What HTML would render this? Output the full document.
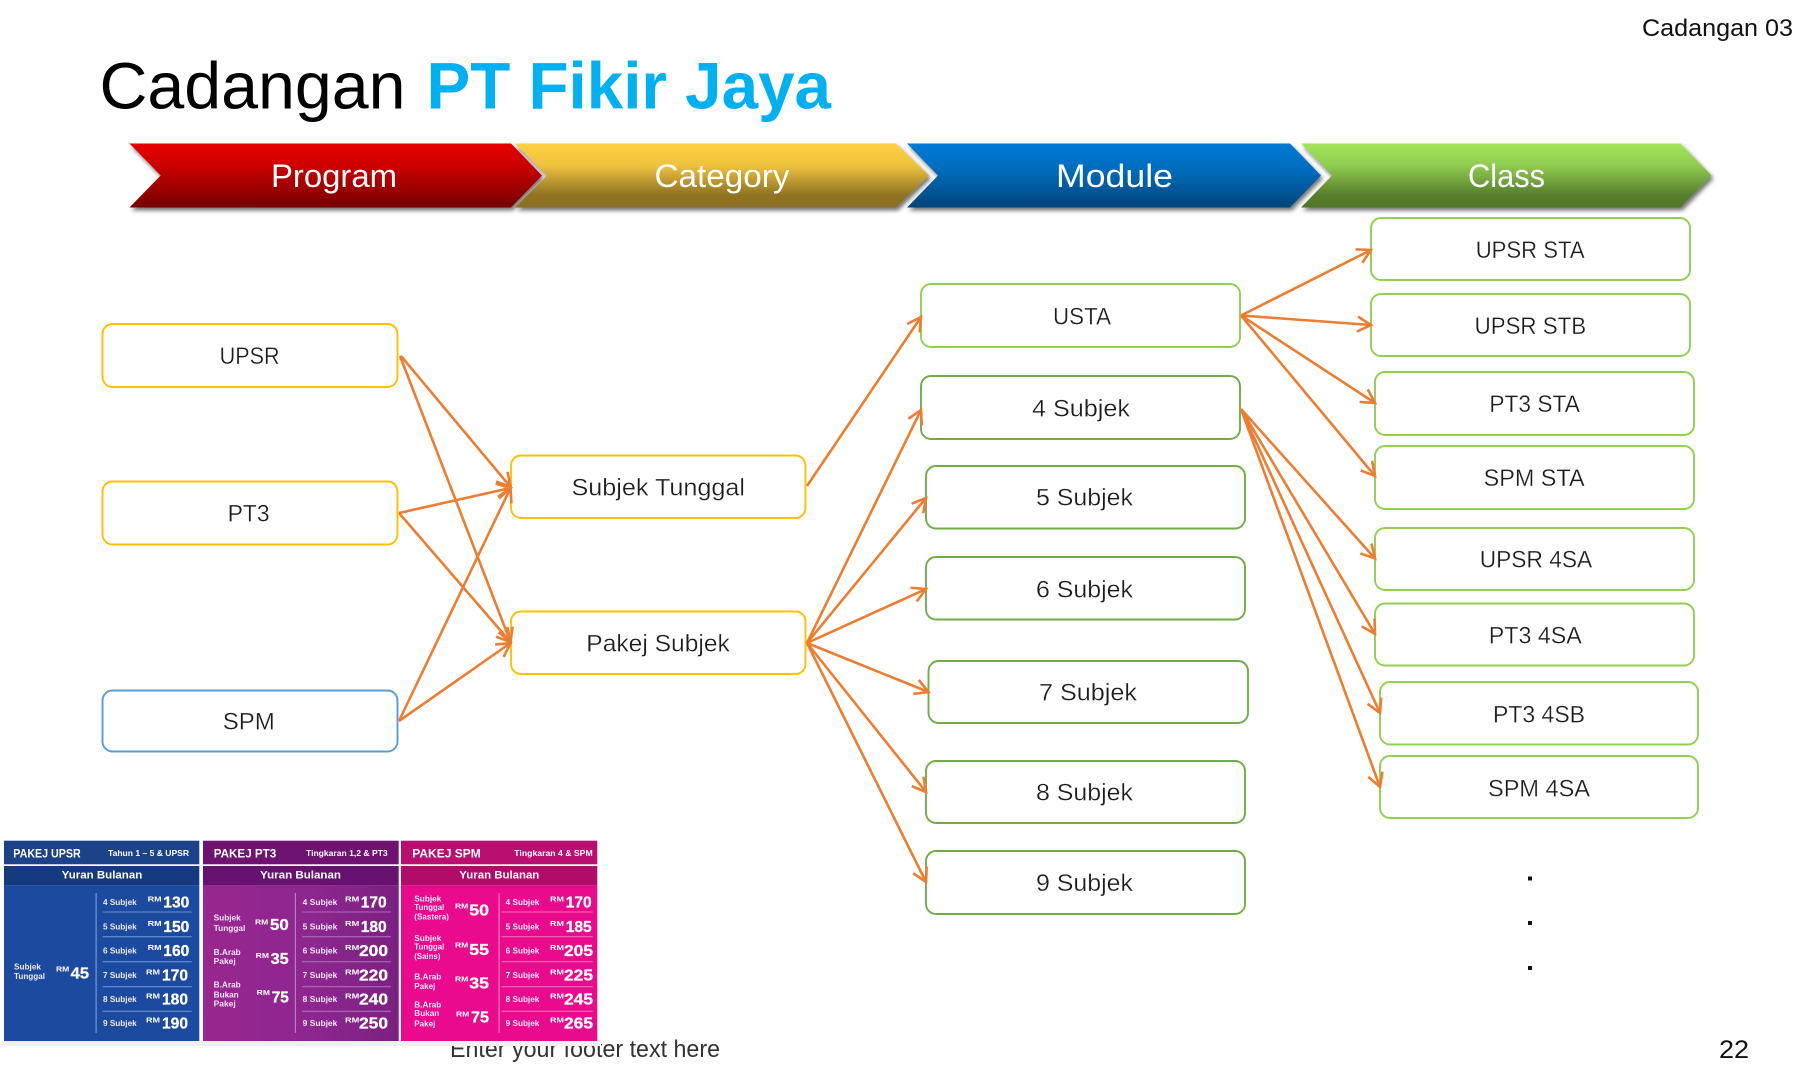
<!DOCTYPE html>
<html lang="ms"><head><meta charset="utf-8"><title>Cadangan PT Fikir Jaya</title>
<style>
html,body{margin:0;padding:0;background:#fff}
svg{display:block}
text{font-family:"Liberation Sans",sans-serif}
.n{font-size:24.5px;fill:#1c1c1c;stroke:#fff;stroke-width:.3px}
.h{font-size:32px;fill:#fff}
.b rect{fill:#fff;stroke-width:1.9}
.a line{stroke:#ED7D31;stroke-width:2.6;marker-end:url(#ah)}
.p text{fill:#fff;font-weight:bold}
.t{font-size:12px}.s{font-size:8.5px}.y{font-size:11px}.l{font-size:8px;fill:#f0e8f6 !important}.r{font-size:7px}.m{font-size:16px;stroke:#fff;stroke-width:.3px}
</style></head>
<body>
<svg width="1812" height="1084" viewBox="0 0 1812 1084" xmlns="http://www.w3.org/2000/svg">
<defs>
<linearGradient id="g1" x1="0" y1="0" x2="0" y2="1"><stop offset="0" stop-color="#E80000"/><stop offset=".35" stop-color="#CC0000"/><stop offset="1" stop-color="#750000"/></linearGradient>
<linearGradient id="g2" x1="0" y1="0" x2="0" y2="1"><stop offset="0" stop-color="#FFD043"/><stop offset=".35" stop-color="#EEC13E"/><stop offset=".8" stop-color="#917424"/><stop offset="1" stop-color="#8A6F22"/></linearGradient>
<linearGradient id="g3" x1="0" y1="0" x2="0" y2="1"><stop offset="0" stop-color="#007AD6"/><stop offset=".4" stop-color="#006CBD"/><stop offset="1" stop-color="#00457A"/></linearGradient>
<linearGradient id="g4" x1="0" y1="0" x2="0" y2="1"><stop offset="0" stop-color="#A2E55B"/><stop offset=".35" stop-color="#8FCB50"/><stop offset=".8" stop-color="#587F2D"/><stop offset="1" stop-color="#52752A"/></linearGradient>
<linearGradient id="pp" x1="0" y1="0" x2="1" y2="0"><stop offset="0" stop-color="#98278F"/><stop offset=".55" stop-color="#8E2690"/><stop offset="1" stop-color="#7B2080"/></linearGradient>
<filter id="sh" x="-5%" y="-20%" width="110%" height="150%"><feDropShadow dx="2" dy="3" stdDeviation="2.2" flood-color="#000" flood-opacity=".55"/></filter>
<marker id="ah" markerUnits="userSpaceOnUse" markerWidth="24" markerHeight="24" refX="19" refY="12" orient="auto" viewBox="0 0 24 24"><path d="M5.5 4.5 L19 12 L5.5 19.5" fill="none" stroke="#ED7D31" stroke-width="2.6"/></marker>
</defs>

<rect width="1812" height="1084" fill="#fff"/>

<text x="99.5" y="108.5" font-size="65.5" textLength="306" lengthAdjust="spacingAndGlyphs">Cadangan</text>
<text x="426.5" y="108.5" font-size="65.5" font-weight="bold" fill="#00B0F0" textLength="404.5" lengthAdjust="spacingAndGlyphs">PT Fikir Jaya</text>
<text x="1642" y="36" font-size="24.5" fill="#111" textLength="151" lengthAdjust="spacingAndGlyphs">Cadangan 03</text>

<g filter="url(#sh)">
<polygon points="129.5,143.5 511,143.5 542,175.5 511,207.5 129.5,207.5 160.7,175.5" fill="url(#g1)"/>
</g>
<g filter="url(#sh)">
<polygon points="515,143.5 896,143.5 929,175.5 896,207.5 515,207.5 547,175.5" fill="url(#g2)"/>
</g>
<g filter="url(#sh)">
<polygon points="907,143.5 1290,143.5 1321,175.5 1290,207.5 907,207.5 938,175.5" fill="url(#g3)"/>
</g>
<g filter="url(#sh)">
<polygon points="1301,143.5 1680.5,143.5 1711.5,175.5 1680.5,207.5 1301,207.5 1332,175.5" fill="url(#g4)"/>
</g>
<text class="h" x="271" y="187" textLength="126" lengthAdjust="spacingAndGlyphs">Program</text>
<text class="h" x="654.5" y="187" textLength="135" lengthAdjust="spacingAndGlyphs">Category</text>
<text class="h" x="1056" y="187" textLength="117" lengthAdjust="spacingAndGlyphs">Module</text>
<text class="h" x="1468" y="187" textLength="77" lengthAdjust="spacingAndGlyphs">Class</text>

<g class="b">
<rect x="102.5" y="324" width="295" height="63" rx="10" stroke="#FFC000"/>
<rect x="102.5" y="481.5" width="295" height="63" rx="10" stroke="#FFC000"/>
<rect x="102.5" y="690.5" width="295" height="61" rx="10" stroke="#5B9BD5"/>
<rect x="511" y="455.5" width="294.5" height="62.5" rx="10" stroke="#FFC000"/>
<rect x="511" y="611.5" width="294.5" height="62.5" rx="10" stroke="#FFC000"/>
<rect x="921" y="284" width="319" height="63" rx="10" stroke="#92D050"/>
<rect x="921" y="376" width="319" height="63" rx="10" stroke="#70AD47"/>
<rect x="926" y="466" width="319" height="62.5" rx="10" stroke="#70AD47"/>
<rect x="926" y="557" width="319" height="62.5" rx="10" stroke="#70AD47"/>
<rect x="928.5" y="661" width="319.5" height="62" rx="10" stroke="#70AD47"/>
<rect x="926" y="761" width="319" height="62" rx="10" stroke="#70AD47"/>
<rect x="926" y="851" width="319" height="63" rx="10" stroke="#70AD47"/>
<rect x="1371" y="218" width="319" height="62" rx="10" stroke="#92D050"/>
<rect x="1371" y="294" width="319" height="62" rx="10" stroke="#92D050"/>
<rect x="1375" y="372" width="319" height="63" rx="10" stroke="#92D050"/>
<rect x="1375" y="446" width="319" height="63" rx="10" stroke="#92D050"/>
<rect x="1375" y="528" width="319" height="62" rx="10" stroke="#92D050"/>
<rect x="1375" y="603.5" width="319" height="62" rx="10" stroke="#92D050"/>
<rect x="1380" y="682" width="318" height="62.5" rx="10" stroke="#92D050"/>
<rect x="1380" y="756" width="318" height="62" rx="10" stroke="#92D050"/>
</g>

<text class="n" x="219.6" y="364" textLength="60" lengthAdjust="spacingAndGlyphs">UPSR</text>
<text class="n" x="227.6" y="521.7" textLength="42" lengthAdjust="spacingAndGlyphs">PT3</text>
<text class="n" x="222.8" y="729.7" textLength="52" lengthAdjust="spacingAndGlyphs">SPM</text>
<text class="n" x="571.5" y="495.5" textLength="173.5" lengthAdjust="spacingAndGlyphs">Subjek Tunggal</text>
<text class="n" x="586.3" y="651.7" textLength="143.5" lengthAdjust="spacingAndGlyphs">Pakej Subjek</text>
<text class="n" x="1053" y="324.6" textLength="58" lengthAdjust="spacingAndGlyphs">USTA</text>
<text class="n" x="1032" y="416.7" textLength="98" lengthAdjust="spacingAndGlyphs">4 Subjek</text>
<text class="n" x="1036" y="505.7" textLength="97" lengthAdjust="spacingAndGlyphs">5 Subjek</text>
<text class="n" x="1036" y="597.7" textLength="97" lengthAdjust="spacingAndGlyphs">6 Subjek</text>
<text class="n" x="1039" y="700.5" textLength="98" lengthAdjust="spacingAndGlyphs">7 Subjek</text>
<text class="n" x="1036" y="800.5" textLength="97" lengthAdjust="spacingAndGlyphs">8 Subjek</text>
<text class="n" x="1036" y="891" textLength="97" lengthAdjust="spacingAndGlyphs">9 Subjek</text>
<text class="n" x="1475.7" y="258" textLength="109" lengthAdjust="spacingAndGlyphs">UPSR STA</text>
<text class="n" x="1474.6" y="334" textLength="111.5" lengthAdjust="spacingAndGlyphs">UPSR STB</text>
<text class="n" x="1489.4" y="412" textLength="90.5" lengthAdjust="spacingAndGlyphs">PT3 STA</text>
<text class="n" x="1483.6" y="486" textLength="101" lengthAdjust="spacingAndGlyphs">SPM STA</text>
<text class="n" x="1479.7" y="567.6" textLength="112.5" lengthAdjust="spacingAndGlyphs">UPSR 4SA</text>
<text class="n" x="1488.8" y="643.6" textLength="93" lengthAdjust="spacingAndGlyphs">PT3 4SA</text>
<text class="n" x="1493" y="722.7" textLength="92" lengthAdjust="spacingAndGlyphs">PT3 4SB</text>
<text class="n" x="1488" y="796.4" textLength="102" lengthAdjust="spacingAndGlyphs">SPM 4SA</text>

<g class="a">
<line x1="401" y1="356" x2="510.5" y2="487"/>
<line x1="400" y1="356" x2="510.5" y2="642"/>
<line x1="399" y1="513" x2="510.5" y2="488"/>
<line x1="399" y1="513" x2="510.5" y2="642"/>
<line x1="399" y1="721" x2="510.5" y2="488"/>
<line x1="399" y1="721" x2="510.5" y2="643"/>
<line x1="807" y1="486" x2="921" y2="317"/>
<line x1="807" y1="643" x2="921" y2="410"/>
<line x1="807" y1="643" x2="926" y2="498"/>
<line x1="807" y1="643" x2="926" y2="589"/>
<line x1="807" y1="643" x2="928.5" y2="692"/>
<line x1="807" y1="643" x2="926" y2="792"/>
<line x1="807" y1="643" x2="926" y2="882"/>
<line x1="1241" y1="315.5" x2="1371" y2="250"/>
<line x1="1241" y1="315.5" x2="1371" y2="325"/>
<line x1="1241" y1="315.5" x2="1375" y2="403"/>
<line x1="1241" y1="315.5" x2="1375" y2="476"/>
<line x1="1241" y1="409" x2="1375" y2="558.5"/>
<line x1="1241" y1="409" x2="1375" y2="634"/>
<line x1="1241" y1="409" x2="1380" y2="713"/>
<line x1="1241" y1="409" x2="1380" y2="787"/>
</g>

<rect x="1528" y="876.5" width="4" height="4" fill="#111"/>
<rect x="1528" y="921" width="4" height="4" fill="#111"/>
<rect x="1528" y="966" width="4" height="4" fill="#111"/>

<text x="450" y="1057" font-size="24" fill="#333" textLength="270" lengthAdjust="spacingAndGlyphs">Enter your footer text here</text>
<text x="1719" y="1058" font-size="25" fill="#111" textLength="30" lengthAdjust="spacingAndGlyphs">22</text>

<rect x="0" y="836" width="601" height="210" fill="#fff"/>
<rect x="4" y="1041" width="594" height="5" fill="#eef0f4"/>

<g class="p">
<!-- Panel 1 -->
<rect x="4" y="840.7" width="195.3" height="23.6" fill="#1C4388"/>
<rect x="4" y="866" width="195.3" height="19.7" fill="#163A80"/>
<rect x="4" y="885.7" width="195.3" height="155.3" fill="#1C4A9E"/>
<text class="t" x="13.3" y="857.3" textLength="67.4" lengthAdjust="spacingAndGlyphs">PAKEJ UPSR</text>
<text class="s" x="108" y="856" textLength="81" lengthAdjust="spacingAndGlyphs">Tahun 1 – 5 &amp; UPSR</text>
<text class="y" x="61.7" y="878.3" textLength="80.6" lengthAdjust="spacingAndGlyphs">Yuran Bulanan</text>
<rect x="95.5" y="893" width="1.2" height="140" fill="#7C97D6"/>
<path d="M102.7 912H191.7M102.7 936.7H191.7M102.7 961.7H191.7M102.7 986.7H191.7M102.7 1011.3H191.7" stroke="#6F8FD2" stroke-width="1.1"/>
<text class="l" x="103" y="905" textLength="33.7" lengthAdjust="spacingAndGlyphs">4 Subjek</text>
<text class="l" x="103" y="929.5" textLength="33.7" lengthAdjust="spacingAndGlyphs">5 Subjek</text>
<text class="l" x="103" y="953.5" textLength="33.7" lengthAdjust="spacingAndGlyphs">6 Subjek</text>
<text class="l" x="103" y="977.8" textLength="33.7" lengthAdjust="spacingAndGlyphs">7 Subjek</text>
<text class="l" x="103" y="1001.8" textLength="33.7" lengthAdjust="spacingAndGlyphs">8 Subjek</text>
<text class="l" x="103" y="1026.2" textLength="33.7" lengthAdjust="spacingAndGlyphs">9 Subjek</text>
<text class="r" x="147.7" y="901.7" textLength="14" lengthAdjust="spacingAndGlyphs">RM</text>
<text class="r" x="147.7" y="926" textLength="14" lengthAdjust="spacingAndGlyphs">RM</text>
<text class="r" x="147.7" y="950" textLength="14" lengthAdjust="spacingAndGlyphs">RM</text>
<text class="r" x="146" y="974.3" textLength="14" lengthAdjust="spacingAndGlyphs">RM</text>
<text class="r" x="146" y="998.3" textLength="14" lengthAdjust="spacingAndGlyphs">RM</text>
<text class="r" x="146" y="1022.7" textLength="14" lengthAdjust="spacingAndGlyphs">RM</text>
<text class="m" x="163.3" y="907.7" textLength="26" lengthAdjust="spacingAndGlyphs">130</text>
<text class="m" x="163.3" y="932" textLength="26" lengthAdjust="spacingAndGlyphs">150</text>
<text class="m" x="163.3" y="956" textLength="26" lengthAdjust="spacingAndGlyphs">160</text>
<text class="m" x="162" y="980.3" textLength="26" lengthAdjust="spacingAndGlyphs">170</text>
<text class="m" x="162" y="1004.3" textLength="26" lengthAdjust="spacingAndGlyphs">180</text>
<text class="m" x="162" y="1028.7" textLength="26" lengthAdjust="spacingAndGlyphs">190</text>
<text class="l" x="14" y="969.3" textLength="27" lengthAdjust="spacingAndGlyphs">Subjek</text>
<text class="l" x="14" y="979" textLength="31" lengthAdjust="spacingAndGlyphs">Tunggal</text>
<text class="r" x="56" y="971.7" textLength="13.3" lengthAdjust="spacingAndGlyphs">RM</text>
<text class="m" x="70.7" y="978.3" textLength="18.3" lengthAdjust="spacingAndGlyphs">45</text>

<!-- Panel 2 -->
<rect x="203" y="840.7" width="195.7" height="23.6" fill="#6E1470"/>
<rect x="203" y="866" width="195.7" height="19.7" fill="#671270"/>
<rect x="203" y="885.7" width="195.7" height="155.3" fill="url(#pp)"/>
<text class="t" x="213.7" y="857.3" textLength="62.6" lengthAdjust="spacingAndGlyphs">PAKEJ PT3</text>
<text class="s" x="306" y="856" textLength="81.7" lengthAdjust="spacingAndGlyphs">Tingkaran 1,2 &amp; PT3</text>
<text class="y" x="260" y="878.3" textLength="81" lengthAdjust="spacingAndGlyphs">Yuran Bulanan</text>
<rect x="294.8" y="893" width="1.2" height="140" fill="#B77CC4"/>
<path d="M302 912H391M302 936.7H391M302 961.7H391M302 986.7H391M302 1011.3H391" stroke="#A96BB8" stroke-width="1.1"/>
<text class="l" x="302.7" y="905" textLength="34.6" lengthAdjust="spacingAndGlyphs">4 Subjek</text>
<text class="l" x="302.7" y="929.5" textLength="34.6" lengthAdjust="spacingAndGlyphs">5 Subjek</text>
<text class="l" x="302.7" y="953.5" textLength="34.6" lengthAdjust="spacingAndGlyphs">6 Subjek</text>
<text class="l" x="302.7" y="977.8" textLength="34.6" lengthAdjust="spacingAndGlyphs">7 Subjek</text>
<text class="l" x="302.7" y="1001.8" textLength="34.6" lengthAdjust="spacingAndGlyphs">8 Subjek</text>
<text class="l" x="302.7" y="1026.2" textLength="34.6" lengthAdjust="spacingAndGlyphs">9 Subjek</text>
<text class="r" x="345" y="901.7" textLength="14.3" lengthAdjust="spacingAndGlyphs">RM</text>
<text class="r" x="345" y="926" textLength="14.3" lengthAdjust="spacingAndGlyphs">RM</text>
<text class="r" x="345" y="950" textLength="14.3" lengthAdjust="spacingAndGlyphs">RM</text>
<text class="r" x="345" y="974.3" textLength="14.3" lengthAdjust="spacingAndGlyphs">RM</text>
<text class="r" x="345" y="998.3" textLength="14.3" lengthAdjust="spacingAndGlyphs">RM</text>
<text class="r" x="345" y="1022.7" textLength="14.3" lengthAdjust="spacingAndGlyphs">RM</text>
<text class="m" x="360.7" y="907.7" textLength="26" lengthAdjust="spacingAndGlyphs">170</text>
<text class="m" x="360.7" y="932" textLength="26" lengthAdjust="spacingAndGlyphs">180</text>
<text class="m" x="359" y="956" textLength="29" lengthAdjust="spacingAndGlyphs">200</text>
<text class="m" x="359" y="980.3" textLength="29" lengthAdjust="spacingAndGlyphs">220</text>
<text class="m" x="359" y="1004.3" textLength="29" lengthAdjust="spacingAndGlyphs">240</text>
<text class="m" x="359" y="1028.7" textLength="29" lengthAdjust="spacingAndGlyphs">250</text>
<text class="l" x="213.7" y="920.7" textLength="27" lengthAdjust="spacingAndGlyphs">Subjek</text>
<text class="l" x="213.7" y="931" textLength="31.6" lengthAdjust="spacingAndGlyphs">Tunggal</text>
<text class="l" x="213.7" y="955" textLength="27" lengthAdjust="spacingAndGlyphs">B.Arab</text>
<text class="l" x="213.7" y="964" textLength="22" lengthAdjust="spacingAndGlyphs">Pakej</text>
<text class="l" x="213.7" y="987.7" textLength="27" lengthAdjust="spacingAndGlyphs">B.Arab</text>
<text class="l" x="213.7" y="997.7" textLength="25" lengthAdjust="spacingAndGlyphs">Bukan</text>
<text class="l" x="213.7" y="1006.7" textLength="22" lengthAdjust="spacingAndGlyphs">Pakej</text>
<text class="r" x="255" y="924.3" textLength="13.3" lengthAdjust="spacingAndGlyphs">RM</text>
<text class="r" x="255.7" y="958" textLength="13.3" lengthAdjust="spacingAndGlyphs">RM</text>
<text class="r" x="256.7" y="995" textLength="13.3" lengthAdjust="spacingAndGlyphs">RM</text>
<text class="m" x="270" y="930" textLength="18.7" lengthAdjust="spacingAndGlyphs">50</text>
<text class="m" x="270.7" y="964" textLength="18" lengthAdjust="spacingAndGlyphs">35</text>
<text class="m" x="271.7" y="1002.7" textLength="17" lengthAdjust="spacingAndGlyphs">75</text>

<!-- Panel 3 -->
<rect x="401" y="840.7" width="196.3" height="23.6" fill="#B80F70"/>
<rect x="401" y="866" width="196.3" height="19.7" fill="#B10C6A"/>
<rect x="401" y="885.7" width="196.3" height="155.3" fill="#EA0A8D"/>
<text class="t" x="412.3" y="857.3" textLength="68.4" lengthAdjust="spacingAndGlyphs">PAKEJ SPM</text>
<text class="s" x="514.3" y="856" textLength="78.4" lengthAdjust="spacingAndGlyphs">Tingkaran 4 &amp; SPM</text>
<text class="y" x="459.3" y="878.3" textLength="80" lengthAdjust="spacingAndGlyphs">Yuran Bulanan</text>
<rect x="498.5" y="893" width="1.2" height="140" fill="#F27ABA"/>
<path d="M501.7 912H592.7M501.7 936.7H592.7M501.7 961.7H592.7M501.7 986.7H592.7M501.7 1011.3H592.7" stroke="#F36DB5" stroke-width="1.1"/>
<text class="l" x="505.7" y="905" textLength="33.6" lengthAdjust="spacingAndGlyphs">4 Subjek</text>
<text class="l" x="505.7" y="929.5" textLength="33.6" lengthAdjust="spacingAndGlyphs">5 Subjek</text>
<text class="l" x="505.7" y="953.5" textLength="33.6" lengthAdjust="spacingAndGlyphs">6 Subjek</text>
<text class="l" x="505.7" y="977.8" textLength="33.6" lengthAdjust="spacingAndGlyphs">7 Subjek</text>
<text class="l" x="505.7" y="1001.8" textLength="33.6" lengthAdjust="spacingAndGlyphs">8 Subjek</text>
<text class="l" x="505.7" y="1026.2" textLength="33.6" lengthAdjust="spacingAndGlyphs">9 Subjek</text>
<text class="r" x="550" y="901.7" textLength="14" lengthAdjust="spacingAndGlyphs">RM</text>
<text class="r" x="550" y="926" textLength="14" lengthAdjust="spacingAndGlyphs">RM</text>
<text class="r" x="550" y="950" textLength="14" lengthAdjust="spacingAndGlyphs">RM</text>
<text class="r" x="550" y="974.3" textLength="14" lengthAdjust="spacingAndGlyphs">RM</text>
<text class="r" x="550" y="998.3" textLength="14" lengthAdjust="spacingAndGlyphs">RM</text>
<text class="r" x="550" y="1022.7" textLength="14" lengthAdjust="spacingAndGlyphs">RM</text>
<text class="m" x="565.7" y="907.7" textLength="26" lengthAdjust="spacingAndGlyphs">170</text>
<text class="m" x="565.7" y="932" textLength="26" lengthAdjust="spacingAndGlyphs">185</text>
<text class="m" x="564" y="956" textLength="29" lengthAdjust="spacingAndGlyphs">205</text>
<text class="m" x="564" y="980.3" textLength="29" lengthAdjust="spacingAndGlyphs">225</text>
<text class="m" x="564" y="1004.3" textLength="29" lengthAdjust="spacingAndGlyphs">245</text>
<text class="m" x="564" y="1028.7" textLength="29" lengthAdjust="spacingAndGlyphs">265</text>
<text class="l" x="414.3" y="901.7" textLength="27" lengthAdjust="spacingAndGlyphs">Subjek</text>
<text class="l" x="414.3" y="910" textLength="30" lengthAdjust="spacingAndGlyphs">Tunggal</text>
<text class="l" x="414.3" y="919.3" textLength="34.7" lengthAdjust="spacingAndGlyphs">(Sastera)</text>
<text class="l" x="414.3" y="941" textLength="27" lengthAdjust="spacingAndGlyphs">Subjek</text>
<text class="l" x="414.3" y="949.3" textLength="30" lengthAdjust="spacingAndGlyphs">Tunggal</text>
<text class="l" x="414.3" y="959" textLength="26" lengthAdjust="spacingAndGlyphs">(Sains)</text>
<text class="l" x="414.3" y="979.3" textLength="27" lengthAdjust="spacingAndGlyphs">B.Arab</text>
<text class="l" x="414.3" y="989" textLength="21" lengthAdjust="spacingAndGlyphs">Pakej</text>
<text class="l" x="414.3" y="1007.7" textLength="27" lengthAdjust="spacingAndGlyphs">B.Arab</text>
<text class="l" x="414.3" y="1016" textLength="25" lengthAdjust="spacingAndGlyphs">Bukan</text>
<text class="l" x="414.3" y="1026.7" textLength="21" lengthAdjust="spacingAndGlyphs">Pakej</text>
<text class="r" x="455" y="908.3" textLength="13.3" lengthAdjust="spacingAndGlyphs">RM</text>
<text class="r" x="455" y="947.3" textLength="13.3" lengthAdjust="spacingAndGlyphs">RM</text>
<text class="r" x="455" y="981.7" textLength="13.3" lengthAdjust="spacingAndGlyphs">RM</text>
<text class="r" x="456" y="1016.7" textLength="13.3" lengthAdjust="spacingAndGlyphs">RM</text>
<text class="m" x="469.3" y="915.7" textLength="19.7" lengthAdjust="spacingAndGlyphs">50</text>
<text class="m" x="469.3" y="955" textLength="19.7" lengthAdjust="spacingAndGlyphs">55</text>
<text class="m" x="469.3" y="988.3" textLength="19.7" lengthAdjust="spacingAndGlyphs">35</text>
<text class="m" x="471" y="1022.3" textLength="18" lengthAdjust="spacingAndGlyphs">75</text>
</g>
</svg>
</body></html>
